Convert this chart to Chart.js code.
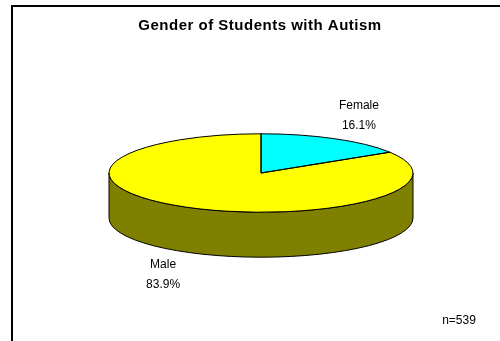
<!DOCTYPE html>
<html lang="en">
<head>
    <meta charset="UTF-8">
    <title>Gender of Students with Autism</title>
    <style>
        body {
            margin: 0;
            padding: 0;
            background: #fff;
            overflow: hidden;
        }
        #wrap {
            width: 500px;
            height: 341px;
        }
    </style>
</head>
<body>
    <div id="wrap">
        <canvas id="pieChart" width="500" height="341"></canvas>
    </div>

    <script src="https://cdn.jsdelivr.net/npm/chart.js"></script>
    <script>
        // Dados do gráfico
        const chartTitle = 'Gender of Students with Autism';
        const genders = ['Female', 'Male'];
        const percents = [16.1, 83.9];
        const sampleNote = 'n=539';

        const topColors = ['#00FFFF', '#FFFF00'];
        const sideColors = ['#008080', '#808000'];

        // Inclinação da pizza 3D
        const tilt = 0.258;
        const depth = 45;

        function ellipseOf(arc) {
            return { cx: arc.x, cy: arc.y, rx: arc.outerRadius, ry: arc.outerRadius * tilt };
        }

        const pie3d = {
            id: 'pie3d',
            beforeDraw(chart) {
                const ctx = chart.ctx;
                ctx.save();
                ctx.fillStyle = '#fff';
                ctx.fillRect(0, 0, chart.width, chart.height);
                ctx.strokeStyle = '#000';
                ctx.lineWidth = 2;
                ctx.strokeRect(12, 6, 600, 600);

                ctx.fillStyle = '#000';
                ctx.textAlign = 'center';
                ctx.textBaseline = 'middle';
                ctx.font = 'bold 15px "Liberation Sans", Arial, sans-serif';
                ctx.letterSpacing = '0.5px';
                ctx.fillText(chartTitle, 260, 26);
                ctx.letterSpacing = '0px';

                ctx.font = '12px "Liberation Sans", Arial, sans-serif';
                ctx.fillText(sampleNote, 459, 321);
                ctx.restore();
            },
            beforeDatasetsDraw(chart) {
                const ctx = chart.ctx;
                const arcs = chart.getDatasetMeta(0).data;

                // lateral (parte da frente visível)
                arcs.forEach((arc, i) => {
                    const e = ellipseOf(arc);
                    const a = Math.max(arc.startAngle, 0);
                    const b = Math.min(arc.endAngle, Math.PI);
                    if (b <= a) return;
                    ctx.save();
                    ctx.beginPath();
                    ctx.ellipse(e.cx, e.cy, e.rx, e.ry, 0, a, b);
                    ctx.lineTo(e.cx + e.rx * Math.cos(b), e.cy + e.ry * Math.sin(b) + depth);
                    ctx.ellipse(e.cx, e.cy + depth, e.rx, e.ry, 0, b, a, true);
                    ctx.closePath();
                    ctx.fillStyle = sideColors[i];
                    ctx.fill();
                    ctx.strokeStyle = '#000';
                    ctx.lineWidth = 1;
                    ctx.stroke();
                    ctx.restore();
                });

                // achata o topo da pizza
                const e = ellipseOf(arcs[0]);
                ctx.save();
                ctx.translate(e.cx, e.cy);
                ctx.scale(1, tilt);
                ctx.translate(-e.cx, -e.cy);
            },
            afterDatasetsDraw(chart) {
                const ctx = chart.ctx;
                ctx.restore();
                const arcs = chart.getDatasetMeta(0).data;

                arcs.forEach((arc, i) => {
                    const e = ellipseOf(arc);
                    ctx.save();
                    ctx.beginPath();
                    ctx.moveTo(e.cx, e.cy);
                    ctx.ellipse(e.cx, e.cy, e.rx, e.ry, 0, arc.startAngle, arc.endAngle);
                    ctx.closePath();
                    ctx.strokeStyle = '#000';
                    ctx.lineWidth = 1;
                    ctx.stroke();

                    // rótulos
                    const mid = (arc.startAngle + arc.endAngle) / 2;
                    const lx = e.cx + e.rx * Math.cos(mid) * 1.33;
                    let ly = e.cy + e.ry * Math.sin(mid) * 1.66;
                    if (Math.sin(mid) > 0) ly += depth;
                    ctx.fillStyle = '#000';
                    ctx.textAlign = 'center';
                    ctx.textBaseline = 'middle';
                    ctx.font = '12px "Liberation Sans", Arial, sans-serif';
                    ctx.fillText(chart.data.labels[i], lx, ly - 10);
                    ctx.fillText(percents[i].toFixed(1) + '%', lx, ly + 10);
                    ctx.restore();
                });
            }
        };

        new Chart(document.getElementById('pieChart').getContext('2d'), {
            type: 'pie',
            data: {
                labels: genders,
                datasets: [{
                    data: percents,
                    backgroundColor: topColors,
                    borderWidth: 0,
                    hoverBorderWidth: 0,
                    clip: false
                }]
            },
            options: {
                responsive: false,
                animation: false,
                events: [],
                layout: {
                    padding: { top: 21, bottom: 16, left: 109, right: 87 }
                },
                plugins: {
                    legend: { display: false },
                    tooltip: { enabled: false },
                    title: { display: false }
                }
            },
            plugins: [pie3d]
        });
    </script>
</body>
</html>
